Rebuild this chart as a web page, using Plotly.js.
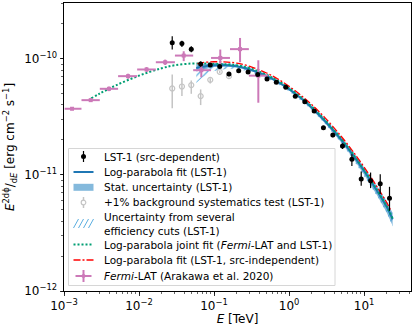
<!DOCTYPE html>
<html>
<head>
<meta charset="utf-8">
<script src="https://cdn.plot.ly/plotly-3.0.1.min.js"></script>
<style>
  html, body { margin: 0; padding: 0; background: #fff; }
  #sed { width: 415px; height: 326px; }
</style>
</head>
<body>
<div id="sed"></div>
<script>
// LST-1 flux points (src-dependent), TeV and erg cm-2 s-1
const energy = [0.0277, 0.0373, 0.0497, 0.0663, 0.089, 0.119, 0.158, 0.213, 0.284, 0.382, 0.508, 0.676,
  0.904, 1.21, 1.62, 2.16, 2.87, 3.83, 5.15, 6.87, 9.15, 12.2, 16.4, 21.8];
const flux = [1.37e-10, 1.35e-10, 1.21e-10, 9.0e-11, 8.85e-11, 8.57e-11, 7.4e-11, 7.9e-11, 7.7e-11, 7.3e-11, 6.7e-11, 6.28e-11,
  5.69e-11, 4.76e-11, 4.26e-11, 3.54e-11, 2.55e-11, 2.20e-11, 1.77e-11, 1.36e-11, 9.2e-12, 8.9e-12, 8.4e-12, 6.3e-12];
const fluxErrUp = [1.9e-11, 0.8e-11, 0.7e-11, 0.45e-11, 0.3e-11, 0.3e-11, 0.25e-11, 0.2e-11, 0.2e-11, 0.2e-11, 0.17e-11, 0.15e-11,
  0.13e-11, 0.12e-11, 0.11e-11, 0.1e-11, 0.09e-11, 0.09e-11, 0.1e-11, 0.146e-11, 1.47e-12, 1.57e-12, 1.74e-12, 1.59e-12];
const fluxErrDown = [1.7e-11, 0.9e-11, 0.7e-11, 0.45e-11, 0.3e-11, 0.3e-11, 0.25e-11, 0.2e-11, 0.2e-11, 0.2e-11, 0.17e-11, 0.15e-11,
  0.13e-11, 0.12e-11, 0.11e-11, 0.1e-11, 0.09e-11, 0.09e-11, 0.1e-11, 0.165e-11, 1.15e-12, 1.21e-12, 1.57e-12, 1.39e-12];

// +1% background systematics test
const energyBkg = [0.0277, 0.0373, 0.0497, 0.0663, 0.089, 0.119, 0.158];
const fluxBkg = [5.55e-11, 5.77e-11, 5.93e-11, 4.77e-11, 6.58e-11, 7.71e-11, 7.08e-11];
const fluxBkgUp = [1.77e-11, 1.07e-11, 0.57e-11, 0.67e-11, 0.21e-11, 0.2e-11, 0.2e-11];
const fluxBkgDown = [1.81e-11, 1.0e-11, 0.94e-11, 0.78e-11, 0.46e-11, 0.2e-11, 0.2e-11];

// Fermi-LAT (Arakawa et al. 2020)
const energyFermi = [1.28e-3, 2.27e-3, 3.98e-3, 7.14e-3, 0.0126, 0.0223, 0.0394, 0.0676, 0.121, 0.222, 0.389];
const energyFermiLo = [1.02e-3, 1.71e-3, 3.0e-3, 5.26e-3, 9.44e-3, 0.01675, 0.0301, 0.0527, 0.0912, 0.163, 0.291];
const energyFermiHi = [1.71e-3, 3.0e-3, 5.26e-3, 9.44e-3, 0.01675, 0.0301, 0.0527, 0.0912, 0.163, 0.291, 0.521];
const fluxFermi = [3.71e-11, 4.40e-11, 5.51e-11, 7.08e-11, 8.08e-11, 9.33e-11, 1.065e-10, 7.97e-11, 1.016e-10, 1.21e-10, 7.15e-11];
const fluxFermiUp = [0.1e-11, 0.15e-11, 0.25e-11, 0.35e-11, 0.4e-11, 0.5e-11, 0.95e-11, 1.17e-11, 1.84e-11, 3.0e-11, 2.55e-11];
const fluxFermiDown = [0.1e-11, 0.15e-11, 0.25e-11, 0.35e-11, 0.4e-11, 0.5e-11, 1.12e-11, 1.04e-11, 1.7e-11, 2.77e-11, 2.97e-11];

// log-parabola fit (LST-1) with its bands
const energyFit = [0.058, 0.07, 0.1, 0.15, 0.2, 0.3, 0.5, 0.7, 1, 1.5, 2, 3, 5, 7, 10, 15, 20, 24];
const fluxFit = [8.32e-11, 8.54e-11, 8.79e-11, 8.79e-11, 8.60e-11, 8.09e-11, 7.12e-11, 6.34e-11, 5.47e-11, 4.47e-11,
  3.79e-11, 2.91e-11, 1.99e-11, 1.50e-11, 1.08e-11, 7.23e-12, 5.31e-12, 4.15e-12];
const statLo = [7.76e-11, 8.06e-11, 8.47e-11, 8.55e-11, 8.40e-11, 7.91e-11, 6.96e-11, 6.20e-11, 5.35e-11, 4.36e-11,
  3.67e-11, 2.80e-11, 1.89e-11, 1.41e-11, 1.00e-11, 6.60e-12, 4.75e-12, 3.65e-12];
const statHi = [8.92e-11, 9.04e-11, 9.12e-11, 9.04e-11, 8.80e-11, 8.28e-11, 7.29e-11, 6.49e-11, 5.60e-11, 4.59e-11,
  3.92e-11, 3.03e-11, 2.09e-11, 1.59e-11, 1.16e-11, 7.90e-12, 5.90e-12, 4.70e-12];
const effLo = [6.17e-11, 6.94e-11, 7.83e-11, 8.20e-11, 8.21e-11, 7.73e-11, 6.80e-11, 6.05e-11, 5.22e-11, 4.27e-11,
  3.62e-11, 2.75e-11, 1.86e-11, 1.38e-11, 9.85e-12, 6.52e-12, 4.73e-12, 3.60e-12];
const effHi = [8.92e-11, 9.04e-11, 9.20e-11, 9.20e-11, 9.00e-11, 8.47e-11, 7.45e-11, 6.64e-11, 5.73e-11, 4.68e-11,
  3.98e-11, 3.08e-11, 2.13e-11, 1.63e-11, 1.18e-11, 8.02e-12, 5.96e-12, 4.66e-12];

// log-parabola fit (LST-1, src-independent)
const energySrcIndep = [0.06, 0.07, 0.1, 0.15, 0.2, 0.3, 0.5, 0.7, 1, 1.5, 2, 3, 5, 7, 10, 15, 20, 23];
const fluxSrcIndep = [9.07e-11, 9.26e-11, 9.42e-11, 9.35e-11, 9.17e-11, 8.59e-11, 7.54e-11, 6.72e-11, 5.79e-11, 4.74e-11,
  4.03e-11, 3.11e-11, 2.13e-11, 1.61e-11, 1.167e-11, 7.83e-12, 5.78e-12, 4.85e-12];

// joint fit (Fermi-LAT and LST-1)
const energyJoint = [0.0023, 0.003, 0.005, 0.01, 0.02, 0.03, 0.05, 0.07, 0.1, 0.15, 0.2, 0.3, 0.5, 0.7, 1, 1.5, 2, 3,
  5, 7, 10, 15, 20, 24];
const fluxJoint = [4.55e-11, 5.02e-11, 5.93e-11, 7.15e-11, 8.28e-11, 8.79e-11, 9.09e-11, 9.10e-11, 9.05e-11, 8.95e-11,
  8.80e-11, 8.28e-11, 7.28e-11, 6.49e-11, 5.60e-11, 4.57e-11, 3.88e-11, 2.98e-11, 2.03e-11, 1.53e-11, 1.10e-11,
  7.35e-12, 5.38e-12, 4.2e-12];

// tick labels
const xTickVals = [1e-3, 1e-2, 1e-1, 1, 10];
const xTickText = ['10<sup>−3</sup>', '10<sup>−2</sup>', '10<sup>−1</sup>', '10<sup>0</sup>', '10<sup>1</sup>'];
const yTickVals = [1e-12, 1e-11, 1e-10];
const yTickText = ['10<sup>−12</sup>', '10<sup>−11</sup>', '10<sup>−10</sup>'];

const legendLabels = [
  'LST-1 (src-dependent)',
  'Log-parabola fit (LST-1)',
  'Stat. uncertainty (LST-1)',
  '+1% background systematics test (LST-1)',
  'Uncertainty from several<br>efficiency cuts (LST-1)',
  'Log-parabola joint fit (<i>Fermi</i>-LAT and LST-1)',
  'Log-parabola fit (LST-1, src-independent)',
  '<i>Fermi</i>-LAT (Arakawa et al. 2020)'
];

const BLUE = '#1f77b4';
const STAT = 'rgba(80,155,205,0.7)';
const HATCH = '#5aaee0';
const GREEN = '#009e73';
const PINK = '#cc79b8';
const GRAY = '#c4c4c4';
const FONT = 'DejaVu Sans';

function band(x, lo, hi) {
  return {
    x: x.concat(x.slice().reverse()),
    y: hi.concat(lo.slice().reverse())
  };
}

const effBand = band(energyFit, effLo, effHi);
const statBand = band(energyFit, statLo, statHi);

const traces = [
  {
    x: effBand.x, y: effBand.y, mode: 'lines', fill: 'toself',
    line: {width: 0}, fillcolor: 'rgba(0,0,0,0)',
    fillpattern: {shape: '/', fgcolor: HATCH, bgcolor: 'rgba(0,0,0,0)', size: 5, solidity: 0.25},
    hoverinfo: 'skip'
  },
  {
    x: statBand.x, y: statBand.y, mode: 'lines', fill: 'toself',
    line: {width: 0}, fillcolor: STAT, hoverinfo: 'skip'
  },
  {
    x: energyFit, y: fluxFit, mode: 'lines',
    line: {color: BLUE, width: 2, shape: 'spline'}
  },
  {
    x: energyJoint, y: fluxJoint, mode: 'lines',
    line: {color: GREEN, width: 2, dash: '2px,2px', shape: 'spline'}
  },
  {
    x: energySrcIndep, y: fluxSrcIndep, mode: 'lines',
    line: {color: 'red', width: 1.3, dash: '7px,2px,2px,2px', shape: 'spline'}
  },
  {
    x: energyBkg, y: fluxBkg, mode: 'markers',
    marker: {symbol: 'circle-open', size: 5, color: GRAY, line: {width: 1.2, color: GRAY}},
    error_y: {type: 'data', symmetric: false, array: fluxBkgUp, arrayminus: fluxBkgDown,
      color: GRAY, thickness: 1.5, width: 0}
  },
  {
    x: energyFermi, y: fluxFermi, mode: 'markers',
    marker: {symbol: 'square', size: 4, color: PINK},
    error_x: {type: 'data', symmetric: false,
      array: energyFermiHi.map((h, i) => h - energyFermi[i]),
      arrayminus: energyFermi.map((e, i) => e - energyFermiLo[i]),
      color: PINK, thickness: 2, width: 0},
    error_y: {type: 'data', symmetric: false, array: fluxFermiUp, arrayminus: fluxFermiDown,
      color: PINK, thickness: 2, width: 0}
  },
  {
    x: energy, y: flux, mode: 'markers',
    marker: {symbol: 'circle', size: 5, color: 'black'},
    error_y: {type: 'data', symmetric: false, array: fluxErrUp, arrayminus: fluxErrDown,
      color: 'black', thickness: 1.2, width: 0}
  }
];
traces.forEach(t => { t.showlegend = false; });

// hand-made legend (matplotlib style), pixel positions turned into paper fractions
const M = {l: 64, r: 4, t: 3, b: 35};
const PW = 415 - M.l - M.r, PH = 326 - M.t - M.b;
const px = x => (x - M.l) / PW;
const py = y => (M.t + PH - y) / PH;

const rows = [156.5, 172, 187.3, 202.5, 223.5, 244.5, 260, 276];
const kx = 83.5;
const shapes = [
  {type: 'rect', xref: 'paper', yref: 'paper', x0: px(68.5), x1: px(335), y0: py(285.5), y1: py(148.5),
    fillcolor: 'rgba(255,255,255,0.8)', line: {color: '#d6d6d6', width: 1}}
];
function seg(x0, y0, x1, y1, line) {
  shapes.push({type: 'line', xref: 'paper', yref: 'paper', x0: px(x0), y0: py(y0), x1: px(x1), y1: py(y1), line: line});
}
function dot(x, y, r, fill, line) {
  shapes.push({type: 'circle', xref: 'paper', yref: 'paper', x0: px(x - r), x1: px(x + r), y0: py(y + r), y1: py(y - r),
    fillcolor: fill, line: line});
}
seg(kx, rows[0] - 5.5, kx, rows[0] + 5.5, {color: 'black', width: 1.2});
dot(kx, rows[0], 2.5, 'black', {width: 0});
seg(kx - 10, rows[1], kx + 10, rows[1], {color: BLUE, width: 2});
shapes.push({type: 'rect', xref: 'paper', yref: 'paper', x0: px(kx - 10), x1: px(kx + 10),
  y0: py(rows[2] + 3.5), y1: py(rows[2] - 3.5), fillcolor: STAT, line: {width: 0}});
seg(kx, rows[3] - 5.5, kx, rows[3] + 5.5, {color: GRAY, width: 1.5});
dot(kx, rows[3], 2.3, 'white', {color: GRAY, width: 1.2});
[-10, -5, 0, 5].forEach(d => seg(kx + d, rows[4] + 4.5, kx + d + 5, rows[4] - 4.5, {color: HATCH, width: 1}));
seg(kx - 10, rows[5], kx + 10, rows[5], {color: GREEN, width: 2, dash: '2px,2px'});
seg(kx - 10, rows[6], kx + 10, rows[6], {color: 'red', width: 1.3, dash: '7px,2px,2px,2px'});
seg(kx - 8, rows[7], kx + 8, rows[7], {color: PINK, width: 2});
seg(kx, rows[7] - 6, kx, rows[7] + 6, {color: PINK, width: 2});
dot(kx, rows[7], 2, PINK, {width: 0});

const annotations = legendLabels.map((txt, i) => ({
  text: txt, xref: 'paper', yref: 'paper', x: px(101.5), y: py(rows[i]),
  xanchor: 'left', yanchor: 'middle', showarrow: false, align: 'left',
  font: {family: FONT, size: 10.5, color: 'black'}
}));

const axisBase = {
  type: 'log', tickmode: 'array',
  ticks: 'outside', ticklen: 3.5, tickwidth: 0.8, tickcolor: 'black',
  showline: true, mirror: true, linecolor: 'black', linewidth: 1,
  showgrid: false, zeroline: false,
  tickfont: {family: FONT, size: 12, color: 'black'},
  minor: {ticks: 'outside', ticklen: 2, tickwidth: 0.6, tickcolor: 'black', dtick: 'D1', showgrid: false}
};

const layout = {
  width: 415, height: 326,
  margin: M,
  paper_bgcolor: 'white', plot_bgcolor: 'white',
  font: {family: FONT, size: 12, color: 'black'},
  showlegend: false,
  xaxis: Object.assign({}, axisBase, {
    range: [-3, 1.625], tickvals: xTickVals, ticktext: xTickText,
    title: {text: '<i>E</i> [TeV]', font: {family: FONT, size: 12}, standoff: 4}
  }),
  yaxis: Object.assign({}, axisBase, {
    range: [-12, -9.52], tickvals: yTickVals, ticktext: yTickText,
    title: {text: '<i>E</i><sup>2</sup><sup>dϕ</sup>/<sub>d<i>E</i></sub> [erg cm<sup>−2</sup> s<sup>−1</sup>]',
      font: {family: FONT, size: 12}, standoff: 6}
  }),
  shapes: shapes,
  annotations: annotations
};

Plotly.newPlot('sed', traces, layout, {displayModeBar: false, staticPlot: true});
</script>
</body>
</html>
